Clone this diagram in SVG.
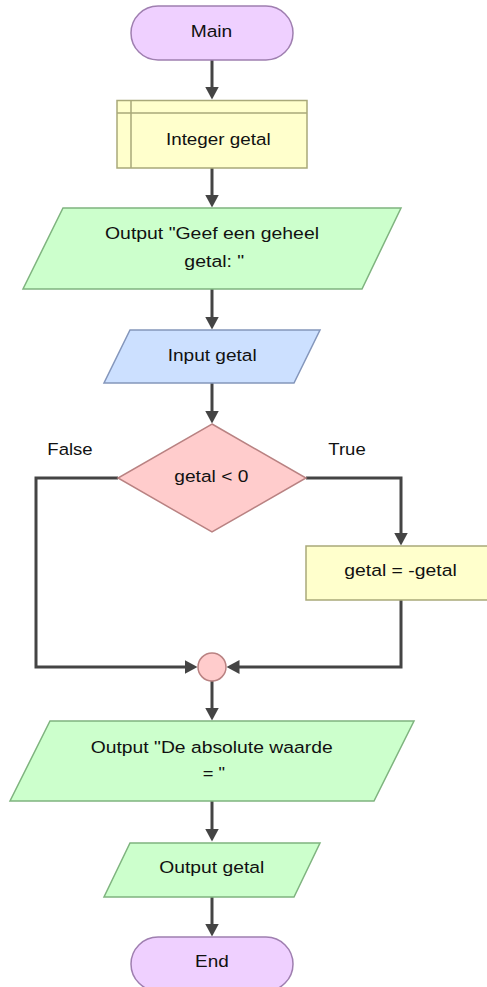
<svg xmlns="http://www.w3.org/2000/svg" width="487" height="987" viewBox="0 0 487 987">
<defs>
<marker id="ah" markerUnits="userSpaceOnUse" markerWidth="14" markerHeight="14" refX="0.5" refY="7" orient="auto">
<path d="M0,0 L13,7 L0,14 z" fill="#444444"/>
</marker>
<style>
.term{fill:#efd0ff;stroke:#9f7fb0;stroke-width:1.5}
.decl{fill:#ffffcc;stroke:#a9a979;stroke-width:1.5}
.out{fill:#ccffcc;stroke:#7fb47f;stroke-width:1.5}
.in{fill:#cce0ff;stroke:#8496bb;stroke-width:1.5}
.dec{fill:#ffcccc;stroke:#b98282;stroke-width:1.5}
.proc{fill:#ffffcc;stroke:#a9a979;stroke-width:1.5}
.conn{fill:none;stroke:#444444;stroke-width:3;marker-end:url(#ah)}
.line{fill:none;stroke:#444444;stroke-width:3}
text{font-family:"Liberation Sans",Arial,Helvetica,sans-serif;font-size:16.3px;fill:#111111;text-anchor:middle}
</style>
</defs>
<g id="connectors">
<path class="conn" d="M212,60 V87"/>
<path class="conn" d="M212,168 V195"/>
<path class="conn" d="M212,289 V317"/>
<path class="conn" d="M212,383 V411"/>
<path class="conn" d="M118,478 H36 V667 H185"/>
<path class="conn" d="M306,478 H401 V533"/>
<path class="conn" d="M401,600 V667 H239"/>
<path class="conn" d="M212,681 V708"/>
<path class="conn" d="M212,801 V829"/>
<path class="conn" d="M212,897 V924"/>
<text x="70" y="455" textLength="45.4" lengthAdjust="spacingAndGlyphs">False</text>
<text x="347" y="455" textLength="37.4" lengthAdjust="spacingAndGlyphs">True</text>
</g>
<g id="main">
<rect class="term" x="131" y="6" width="162" height="54" rx="27"/>
<text x="211.5" y="36.5" textLength="41.6" lengthAdjust="spacingAndGlyphs">Main</text>
</g>
<g id="declare">
<rect class="decl" x="117" y="100.5" width="190" height="67.5"/>
<path class="line" d="M131,100.5 V168 M117,113 H307" style="stroke:#a9a979;stroke-width:1.5"/>
<text x="218.3" y="145" textLength="104.7" lengthAdjust="spacingAndGlyphs">Integer getal</text>
</g>
<g id="output1">
<polygon class="out" points="63,208 401,208 362,289 23,289"/>
<text x="212" y="239" textLength="214" lengthAdjust="spacingAndGlyphs">Output "Geef een geheel</text>
<text x="214.3" y="266.5" textLength="60" lengthAdjust="spacingAndGlyphs">getal: "</text>
</g>
<g id="input">
<polygon class="in" points="130,330 320,330 294,383 104,383"/>
<text x="212.2" y="361" textLength="89" lengthAdjust="spacingAndGlyphs">Input getal</text>
</g>
<g id="decision">
<polygon class="dec" points="212,424 306,478 212,532 118,478"/>
<text x="211.3" y="481.7" textLength="74" lengthAdjust="spacingAndGlyphs">getal &lt; 0</text>
</g>
<g id="assign">
<rect class="proc" x="306" y="546" width="190" height="54"/>
<text x="400.5" y="576" textLength="112.4" lengthAdjust="spacingAndGlyphs">getal = -getal</text>
</g>
<g id="join">
<circle class="dec" cx="212" cy="667" r="14"/>
</g>
<g id="output2">
<polygon class="out" points="50,721 414,721 374,801 10,801"/>
<text x="211.7" y="752.7" textLength="242" lengthAdjust="spacingAndGlyphs">Output "De absolute waarde</text>
<text x="213.9" y="779" textLength="22.3" lengthAdjust="spacingAndGlyphs">= "</text>
</g>
<g id="output3">
<polygon class="out" points="130,843 320,843 294,897 104,897"/>
<text x="211.8" y="873.3" textLength="105" lengthAdjust="spacingAndGlyphs">Output getal</text>
</g>
<g id="end">
<rect class="term" x="131" y="937" width="162" height="54" rx="27"/>
<text x="211.9" y="967.3" textLength="33.7" lengthAdjust="spacingAndGlyphs">End</text>
</g>
</svg>
